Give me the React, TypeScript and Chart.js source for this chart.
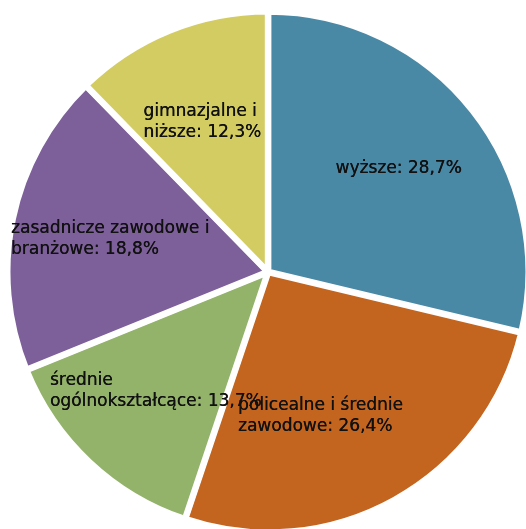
import React, { useEffect, useRef } from "react";
import { Chart, registerables } from "chart.js";

Chart.register(...registerables);

const categories: string[] = [
  "wyższe",
  "policealne i średnie\nzawodowe",
  "średnie\nogólnokształcące",
  "zasadnicze zawodowe i\nbranżowe",
  "gimnazjalne i\nniższe",
];
const values: number[] = [28.7, 26.4, 13.7, 18.8, 12.3];
const colors: string[] = ["#4A89A6", "#C3641F", "#93B26A", "#7D5F9A", "#D3CC62"];

// label placement: angle shift (degrees) and radius fraction per slice
const labelAngleShift: number[] = [0, 9, 0, 0, -1.5];
const labelRadiusFrac: number[] = [0.64, 0.59, 0.63, 0.62, 0.63];

const fmt = (v: number) => v.toFixed(1).replace(".", ",") + "%";

const labelPlugin = {
  id: "sliceLabels",
  afterDatasetsDraw(chart: any) {
    const ctx = chart.ctx;
    const meta = chart.getDatasetMeta(0);
    ctx.save();
    ctx.font = "17px 'DejaVu Sans'";
    ctx.fillStyle = "#111111";
    ctx.textBaseline = "middle";
    ctx.textAlign = "left";
    const lh = 20.5;
    meta.data.forEach((arc: any, i: number) => {
      const p = arc.getProps(["x", "y", "startAngle", "endAngle", "outerRadius"], true);
      const mid = (p.startAngle + p.endAngle) / 2 + (labelAngleShift[i] * Math.PI) / 180;
      const r = p.outerRadius * labelRadiusFrac[i];
      const cx = p.x + Math.cos(mid) * r;
      const cy = p.y + Math.sin(mid) * r;
      const lines = (categories[i] + ": " + fmt(values[i])).split("\n");
      const w = Math.max(...lines.map((l) => ctx.measureText(l).width));
      const x0 = cx - w / 2;
      lines.forEach((l, j) => {
        const y = cy - ((lines.length - 1) * lh) / 2 + j * lh;
        ctx.fillText(l, x0, y);
        ctx.fillText(l, x0 + 0.3, y);
      });
    });
    ctx.restore();
  },
};

export default function App() {
  const ref = useRef<HTMLCanvasElement | null>(null);
  useEffect(() => {
    if (!ref.current) return;
    const chart = new Chart(ref.current, {
      type: "pie",
      data: {
        labels: categories.map((c) => c.replace("\n", " ")),
        datasets: [
          {
            data: values,
            backgroundColor: colors,
            borderColor: "#ffffff",
            borderWidth: 6,
            offset: 2,
          },
        ],
      },
      options: {
        responsive: false,
        animation: false,
        layout: { padding: 0 },
        plugins: {
          legend: { display: false },
          tooltip: { enabled: false },
          title: { display: false },
        },
      },
      plugins: [labelPlugin],
    });
    return () => chart.destroy();
  }, []);
  return (
    <div
      style={{
        position: "fixed",
        left: 0,
        top: 0,
        width: "100vw",
        height: "100vh",
        overflow: "hidden",
        background: "#ffffff",
      }}
    >
      <canvas
        ref={ref}
        width={528}
        height={528}
        style={{ position: "absolute", left: 4, top: 8, width: 528, height: 528 }}
      />
    </div>
  );
}
